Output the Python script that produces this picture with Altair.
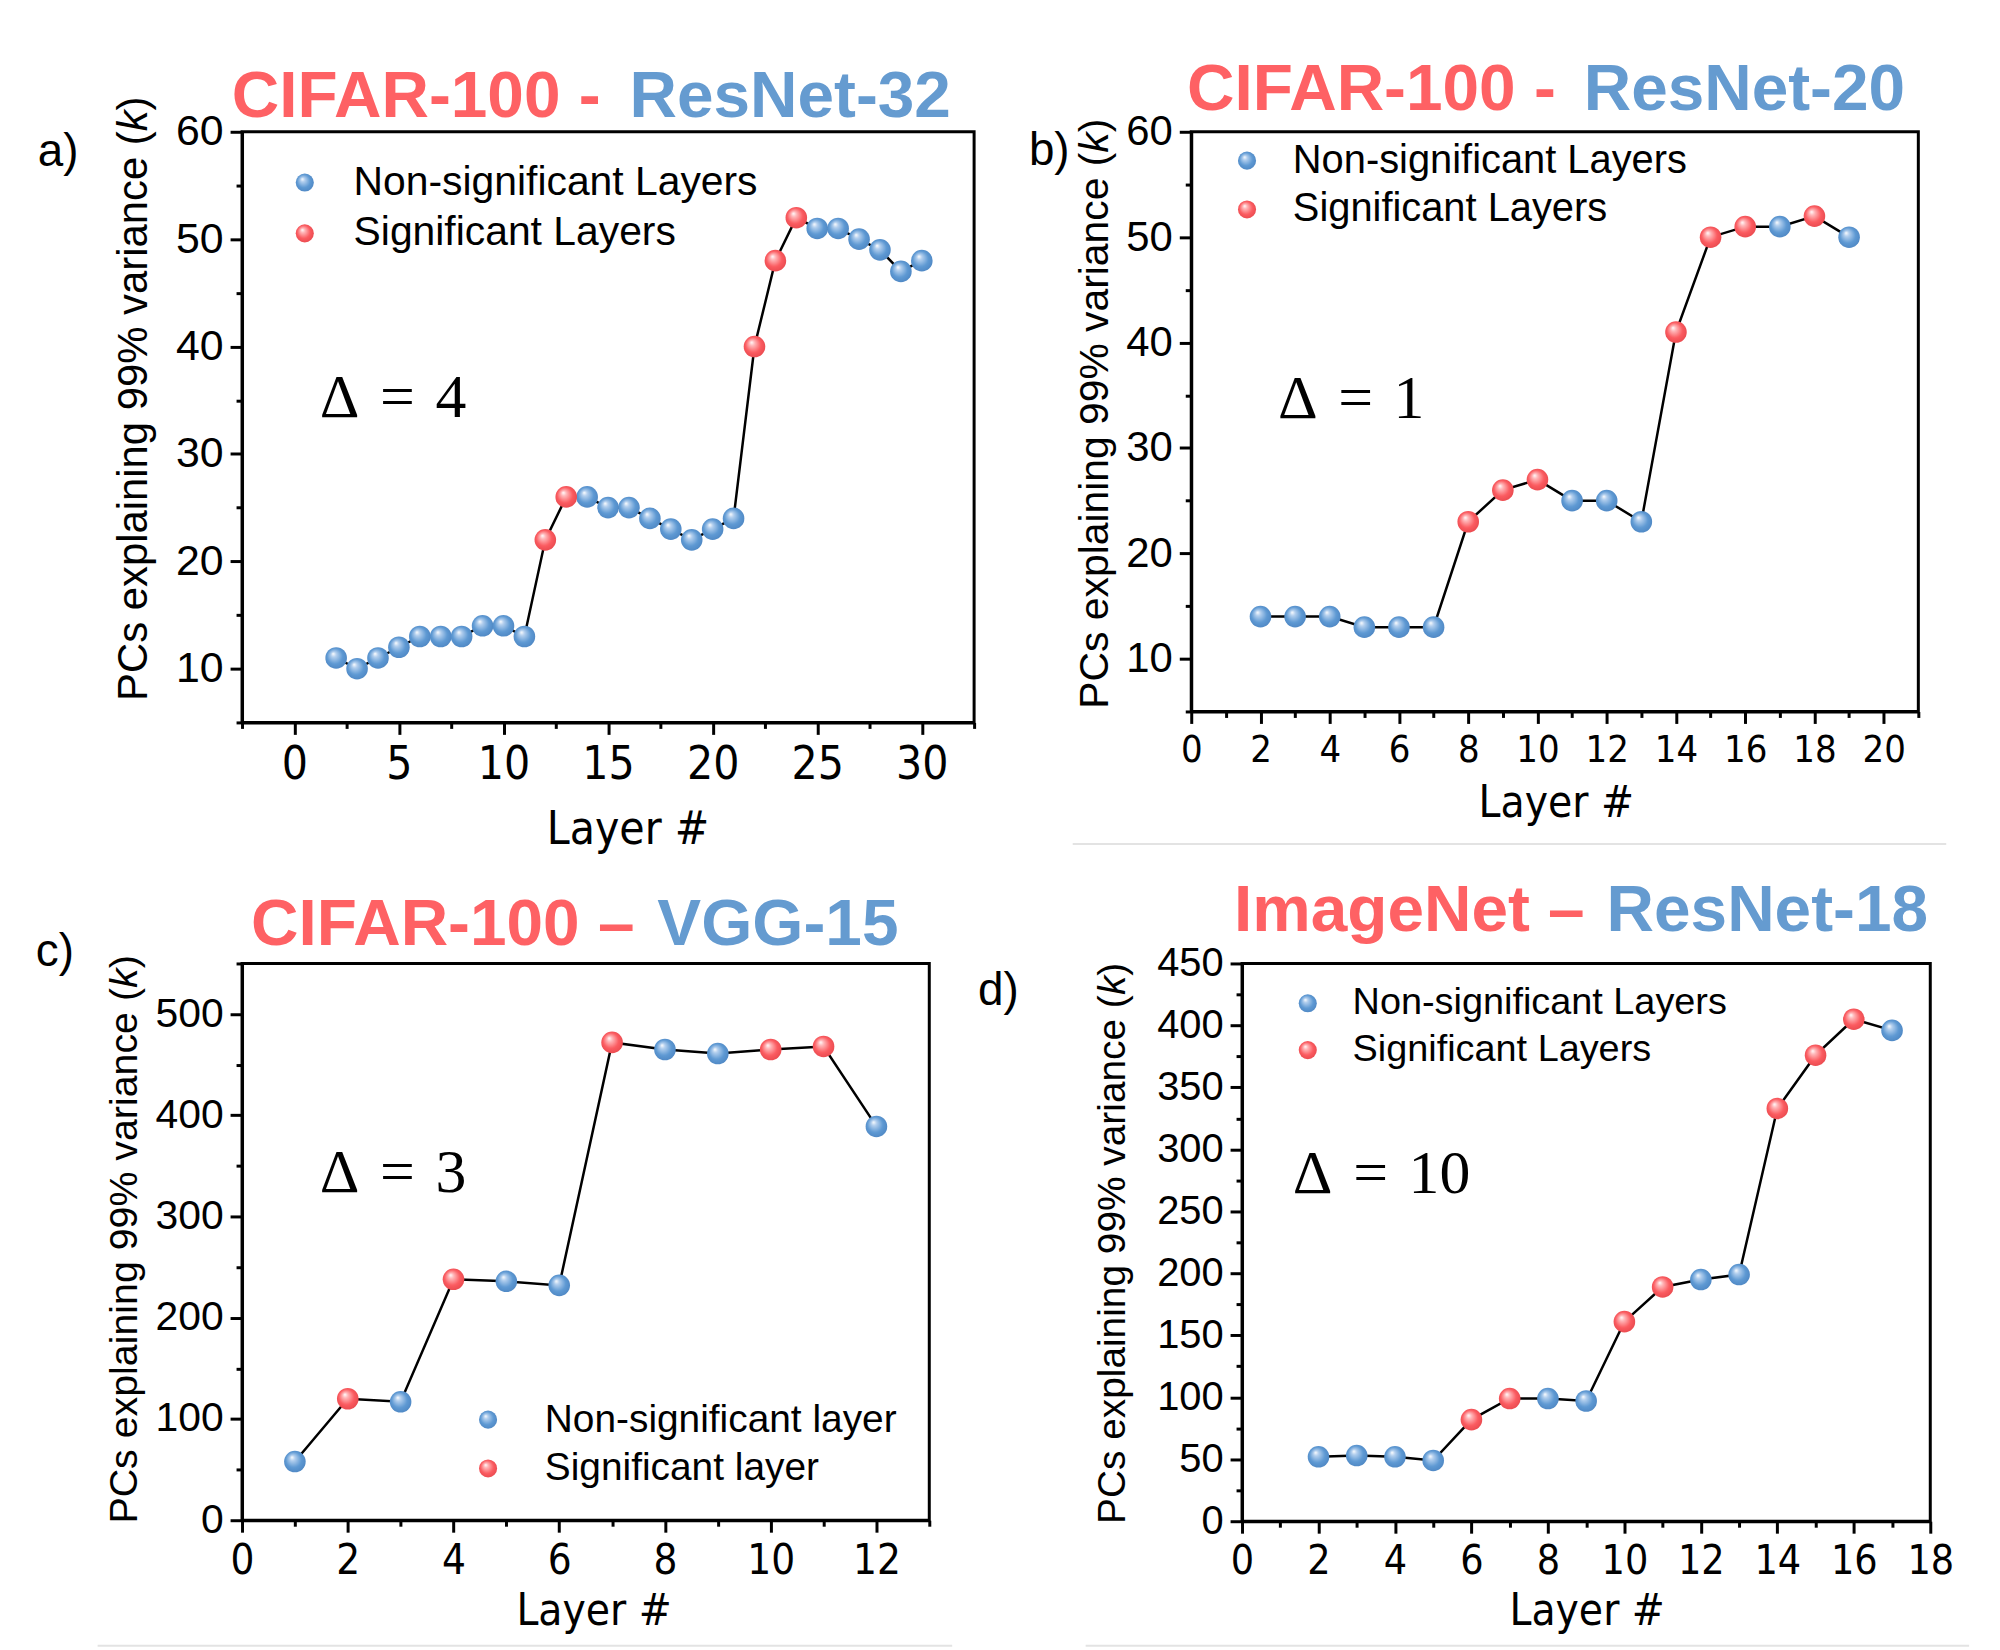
import altair as alt
import pandas as pd

# ---------------- data ----------------
a_layers = list(range(2, 31))
a_k = [11, 10, 11, 12, 13, 13, 13, 14, 14, 13, 22, 26, 26, 25, 25, 24, 23, 22, 23, 24,
       40, 48, 52, 51, 51, 50, 49, 47, 48]
a_sig = [12, 13, 22, 23, 24]

b_layers = list(range(2, 20))
b_k = [14, 14, 14, 13, 13, 13, 23, 26, 27, 25, 25, 23, 41, 50, 51, 51, 52, 50]
b_sig = [8, 9, 10, 14, 15, 16, 18]

c_layers = list(range(1, 13))
c_k = [58, 120, 117, 238, 236, 232, 472, 465, 461, 465, 468, 389]
c_sig = [2, 4, 7, 10, 11]

d_layers = list(range(2, 18))
d_k = [52, 53, 52, 49, 82, 99, 99, 97, 161, 189, 195, 199, 333, 376, 405, 396]
d_sig = [6, 7, 10, 11, 14, 15, 16]

a_title = ["CIFAR-100 -", "ResNet-32"]
b_title = ["CIFAR-100 -", "ResNet-20"]
c_title = ["CIFAR-100 \u2013", "VGG-15"]
d_title = ["ImageNet \u2013", "ResNet-18"]

a_legend = ["Non-significant Layers", "Significant Layers"]
c_legend = ["Non-significant layer", "Significant layer"]

a_x_ticks = [v / 2 for v in range(-5, 66, 5)]      # -2.5 .. 32.5
b_x_ticks = list(range(0, 22))
c_x_ticks = list(range(0, 14))
d_x_ticks = list(range(0, 19))
ab_y_ticks = list(range(5, 61, 5))
c_y_ticks = list(range(0, 551, 50))
d_y_ticks = list(range(0, 451, 25))

RED_T = "#fe6164"
BLUE_T = "#659bd0"
SANS = "Liberation Sans"
NARROW = "DejaVu Sans Condensed"
SERIF = "Liberation Serif"

ONE = alt.Data(values=[{"a": 1}])


def sphere(light, base, dark):
    return {
        "gradient": "radial",
        "x1": 0.36, "y1": 0.3, "r1": 0.0,
        "x2": 0.5, "y2": 0.5, "r2": 0.6,
        "stops": [
            {"offset": 0.0, "color": "#ffffff"},
            {"offset": 0.2, "color": light},
            {"offset": 0.6, "color": base},
            {"offset": 1.0, "color": dark},
        ],
    }


SPH_BLUE = sphere("#b3cfee", "#5e99d3", "#4a82bf")
SPH_RED = sphere("#ffb8ba", "#fb5b60", "#e4454a")

AW = {" ": 278, "P": 667, "C": 722, "s": 500, "e": 556, "x": 500, "p": 556, "l": 222,
      "a": 556, "i": 222, "n": 556, "g": 556, "9": 556, "%": 889, "v": 500, "r": 333,
      "c": 500, "(": 333, "k": 500, ")": 333}


def tw(s, fs):
    return sum(AW.get(ch, 556) for ch in s) / 1000.0 * fs


def txt(text, x, y, **kw):
    return alt.Chart(ONE).mark_text(text=text, **kw).encode(
        x=alt.value(x), y=alt.value(y))


def make_panel(p):
    df = pd.DataFrame({"layer": p["layers"], "k": p["k"]})
    df["sig"] = [1 if l in p["sig"] else 0 for l in p["layers"]]
    L, T, W, H = p["plot"]
    B = T + H
    xm, ym = p["xmaj"], p["ymaj"]

    xaxis = alt.Axis(
        values=p["xticks"],
        labelExpr=f"datum.value % {xm} == 0 ? datum.label : ''",
        tickSize={"condition": {"test": f"datum.value % {xm} != 0", "value": 6}, "value": 12},
        labelOverlap=False, labelFlush=False, grid=False,
        labelFont=NARROW, labelFontSize=p["xfs"], labelPadding=8,
        title="Layer #", titleX=p["xt"][0] - L, titleY=p["xt"][1] - B,
        titleBaseline="alphabetic", titleAlign="center",
        titleFont=NARROW, titleFontSize=p["xtfs"], titleFontWeight="normal",
    )
    yaxis = alt.Axis(
        values=p["yticks"],
        labelExpr=f"datum.value % {ym} == 0 ? datum.label : ''",
        tickSize={"condition": {"test": f"datum.value % {ym} != 0", "value": 6}, "value": 12},
        labelOverlap=False, labelFlush=False, grid=False,
        labelFont=SANS, labelFontSize=p["yfs"], labelPadding=7,
        title=None,
    )
    xenc = alt.X("layer:Q", scale=alt.Scale(domain=p["xdom"], nice=False, zero=False), axis=xaxis)
    yenc = alt.Y("k:Q", scale=alt.Scale(domain=p["ydom"], nice=False, zero=False), axis=yaxis)

    base = alt.Chart(df).encode(x=xenc, y=yenc)
    line = base.mark_line(color="black", strokeWidth=2.5)
    blue = base.transform_filter("datum.sig == 0").mark_circle(size=470, fill=SPH_BLUE, opacity=1)
    red = base.transform_filter("datum.sig == 1").mark_circle(size=470, fill=SPH_RED, opacity=1)

    cl, ct, cr, cb = p["cell"]
    box = alt.Chart(ONE).mark_rect(opacity=0).encode(
        x=alt.value(cl - L), x2=alt.value(cr - L), y=alt.value(ct - T), y2=alt.value(cb - T))

    ann = []
    rx, bx, ty = p["tpos"]
    ann.append(txt(p["title"][0], rx - L, ty - T, align="right", baseline="alphabetic",
                   font=SANS, fontSize=66, fontWeight="bold", color=RED_T))
    ann.append(txt(p["title"][1], bx - L, ty - T, align="left", baseline="alphabetic",
                   font=SANS, fontSize=66, fontWeight="bold", color=BLUE_T))
    ann.append(txt(p["letter"], p["lpos"][0] - L, p["lpos"][1] - T, align="left",
                   baseline="alphabetic", font=SANS, fontSize=46, color="black"))
    ann.append(txt(p["delta"], p["dpos"][0] - L, p["dpos"][1] - T, align="left",
                   baseline="alphabetic", font=SERIF, fontSize=62, color="black"))
    lx, ly1, ly2, ltx = p["leg"]
    for yy, sph, lab in [(ly1, SPH_BLUE, p["legend"][0]), (ly2, SPH_RED, p["legend"][1])]:
        ann.append(alt.Chart(ONE).mark_circle(size=330, fill=sph, opacity=1).encode(
            x=alt.value(lx - L), y=alt.value(yy - T)))
        ann.append(txt(lab, ltx - L, yy - T, align="left", baseline="middle", font=SANS,
                       fontSize=p["lfs"], color="black"))
    cx, cy = p["yt"]
    fs = p["ytfs"]
    s1 = "PCs explaining 99% variance ("
    w1 = tw(s1, fs)
    wk = tw("k", fs)
    total = w1 + wk + tw(")", fs)
    y0 = cy - T + total / 2
    common = dict(angle=270, align="left", baseline="middle", font=SANS, fontSize=fs, color="black")
    ann.append(txt(s1, cx - L, y0, **common))
    ann.append(txt("k", cx - L, y0 - w1, fontStyle="italic", **common))
    ann.append(txt(")", cx - L, y0 - w1 - wk, **common))
    if p.get("sep"):
        sx1, sx2, sy = p["sep"]
        ann.append(alt.Chart(ONE).mark_rule(color="#e3e3e3", strokeWidth=2).encode(
            x=alt.value(sx1 - L), x2=alt.value(sx2 - L), y=alt.value(sy - T)))

    return alt.layer(box, line, blue, red, *ann).properties(width=W, height=H)


DS = "\u2004=\u2004"
ROW = 858

A = dict(layers=a_layers, k=a_k, sig=a_sig, plot=(241, 127, 735, 593),
         xdom=[-2.5, 32.5], ydom=[5, 60], xticks=a_x_ticks, xmaj=5, yticks=ab_y_ticks, ymaj=10,
         xfs=46, xtfs=46, yfs=43, xt=(628, 842), cell=(0, 0, 1000, ROW),
         title=a_title, tpos=(601, 630, 112), letter="a)", lpos=(36, 161),
         delta="\u0394" + DS + "4", dpos=(319, 413),
         leg=(304, 178, 229, 353), legend=a_legend, lfs=41, yt=(133, 395), ytfs=42)

B = dict(layers=b_layers, k=b_k, sig=b_sig, plot=(1190, 127, 730, 582),
         xdom=[0, 21], ydom=[5, 60], xticks=b_x_ticks, xmaj=2, yticks=ab_y_ticks, ymaj=10,
         xfs=38, xtfs=44, yfs=42, xt=(1556, 814), cell=(1000, 0, 2000, ROW),
         title=b_title, tpos=(1556, 1584, 105), letter="b)", lpos=(1027, 160),
         delta="\u0394" + DS + "1", dpos=(1277, 414),
         leg=(1246, 156, 205, 1292), legend=a_legend, lfs=40, yt=(1094, 410), ytfs=41,
         sep=(1071, 1948, 842))

C = dict(layers=c_layers, k=c_k, sig=c_sig, plot=(241, 958, 690, 559),
         xdom=[0, 13], ydom=[0, 550], xticks=c_x_ticks, xmaj=2, yticks=c_y_ticks, ymaj=100,
         xfs=42, xtfs=44, yfs=41, xt=(594, 1622), cell=(0, ROW, 965, 1645),
         title=c_title, tpos=(635, 658, 939), letter="c)", lpos=(34, 961),
         delta="\u0394" + DS + "3", dpos=(319, 1187),
         leg=(488, 1416, 1465, 545), legend=c_legend, lfs=39, yt=(124, 1235), ytfs=39.5,
         sep=(96, 954, 1643))

D = dict(layers=d_layers, k=d_k, sig=d_sig, plot=(1241, 958, 691, 560),
         xdom=[0, 18], ydom=[0, 450], xticks=d_x_ticks, xmaj=2, yticks=d_y_ticks, ymaj=50,
         xfs=41, xtfs=44, yfs=40, xt=(1587, 1622), cell=(965, ROW, 2000, 1645),
         title=d_title, tpos=(1585, 1607, 925), letter="d)", lpos=(976, 1000),
         delta="\u0394" + DS + "10", dpos=(1292, 1188),
         leg=(1307, 998, 1045, 1352), legend=a_legend, lfs=38, yt=(1112, 1239), ytfs=39,
         sep=(1084, 1971, 1643))

row1 = alt.hconcat(make_panel(A), make_panel(B), spacing=0)
row2 = alt.hconcat(make_panel(C), make_panel(D), spacing=0)

chart = alt.vconcat(row1, row2, spacing=0).properties(
    padding=0, background="white"
).configure_view(
    stroke="black", strokeWidth=3
).configure_axis(
    domainColor="black", domainWidth=3, tickColor="black", tickWidth=3,
    labelColor="black", titleColor="black",
)

chart.save("out.html", embed_options={"renderer": "svg", "actions": False})
